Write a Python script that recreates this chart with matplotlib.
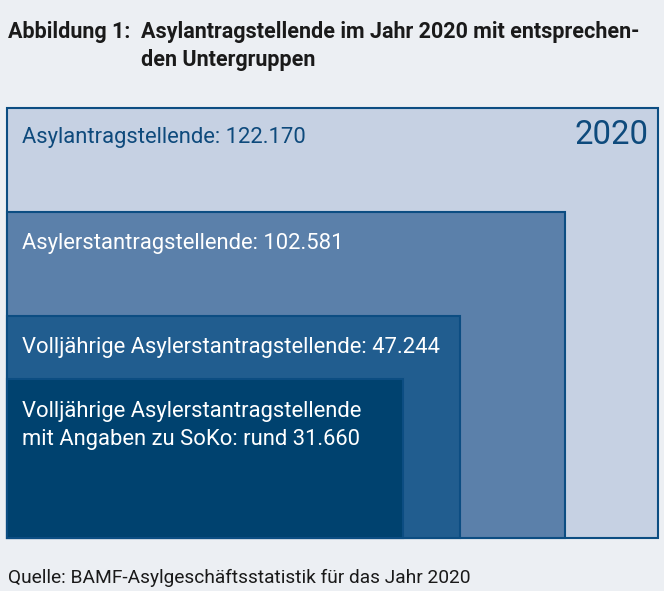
import matplotlib.pyplot as plt
from matplotlib.patches import Rectangle

# data
groups = ['Asylantragstellende', 'Asylerstantragstellende',
          'Volljährige Asylerstantragstellende',
          'Volljährige Asylerstantragstellende\nmit Angaben zu SoKo']
counts = ['122.170', '102.581', '47.244', 'rund 31.660']
year = '2020'

# layout in pixels (schematic nested boxes, all anchored bottom-left)
box_right = [658, 565, 460, 403]
box_top = [108, 212, 316, 379]
box_left = 7
box_bottom = 538
fills = ['#c6d1e3', '#5b80aa', '#215d8f', '#00426f']
text_cols = ['#0e4a7c', 'white', 'white', 'white']
label_y = [143, 249, 353, 417]
line_step = 28

BG = '#eceff3'
EDGE = '#0c4d82'

plt.rcParams['font.family'] = ['Roboto', 'DejaVu Sans']

fig = plt.figure(figsize=(6.64, 5.91), dpi=100)
fig.patch.set_facecolor(BG)
ax = fig.add_axes([0, 0, 1, 1])
ax.set_xlim(0, 664)
ax.set_ylim(591, 0)
ax.axis('off')

for i in range(len(groups)):
    r = Rectangle((box_left, box_top[i]), box_right[i] - box_left, box_bottom - box_top[i],
                  facecolor=fills[i], edgecolor=EDGE, linewidth=1.5)
    ax.add_patch(r)
    lines = (groups[i] + ': ' + counts[i]).split('\n')
    for k, ln in enumerate(lines):
        ax.text(22, label_y[i] + k * line_step, ln, color=text_cols[i],
                fontsize=15.8, va='baseline', ha='left')

ax.text(649, 144, year, color='#0e4a7c', fontsize=23.7, ha='right', va='baseline')

# title
ax.text(8, 38, 'Abbildung 1:', fontsize=15.5, fontweight='bold', color='#1a1a1a',
        va='baseline', ha='left')
ax.text(141, 38, 'Asylantragstellende im Jahr 2020 mit entsprechen-',
        fontsize=15.5, fontweight='bold', color='#1a1a1a', va='baseline', ha='left')
ax.text(141, 66, 'den Untergruppen',
        fontsize=15.5, fontweight='bold', color='#1a1a1a', va='baseline', ha='left')

ax.text(8, 583, 'Quelle: BAMF-Asylgeschäftsstatistik für das Jahr 2020',
        fontsize=13.8, color='#1a1a1a', va='baseline', ha='left')

fig.savefig('out.png', dpi=100, facecolor=BG)
